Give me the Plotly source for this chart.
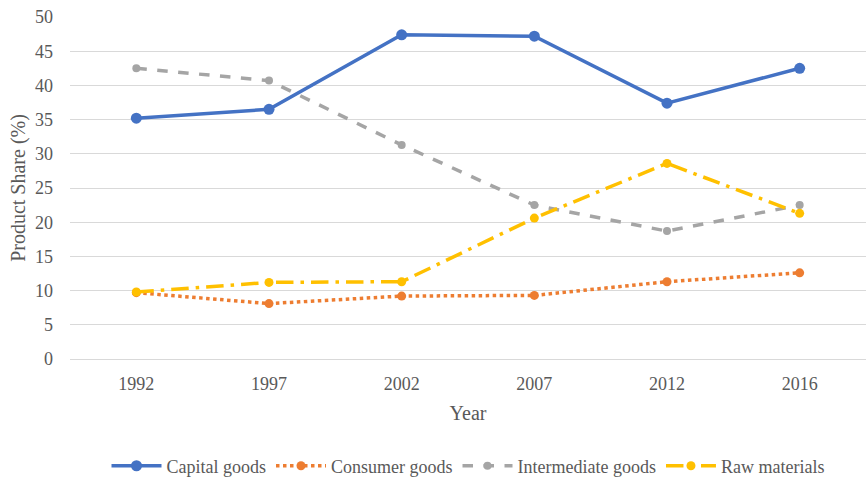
import plotly.graph_objects as go

years = ["1992", "1997", "2002", "2007", "2012", "2016"]
capital = [35.2, 36.5, 47.4, 47.2, 37.4, 42.5]
consumer = [9.7, 8.1, 9.2, 9.3, 11.3, 12.6]
intermediate = [42.5, 40.7, 31.3, 22.5, 18.7, 22.5]
raw = [9.8, 11.2, 11.3, 20.6, 28.6, 21.3]

font = "Liberation Serif, Times New Roman, serif"
grey_text = "#595959"

fig = go.Figure()
fig.add_trace(go.Scatter(x=years, y=capital, name="Capital goods", mode="lines+markers",
                         line=dict(color="#4472C4", width=3.5), marker=dict(size=11)))
fig.add_trace(go.Scatter(x=years, y=consumer, name="Consumer goods", mode="lines+markers",
                         line=dict(color="#ED7D31", width=3.5, dash="dot"), marker=dict(size=9)))
fig.add_trace(go.Scatter(x=years, y=intermediate, name="Intermediate goods", mode="lines+markers",
                         line=dict(color="#A5A5A5", width=3.5, dash="dash"), marker=dict(size=8)))
fig.add_trace(go.Scatter(x=years, y=raw, name="Raw materials", mode="lines+markers",
                         line=dict(color="#FFC000", width=3.5, dash="longdashdot"), marker=dict(size=9)))

fig.update_layout(
    width=866, height=480,
    margin=dict(l=70, r=0, t=17, b=121, autoexpand=False),
    paper_bgcolor="white", plot_bgcolor="white",
    font=dict(family=font, size=18, color=grey_text),
    showlegend=True,
    legend=dict(orientation="h", x=0.5, xanchor="center", y=-0.313, yanchor="middle",
                font=dict(family=font, size=18, color=grey_text), traceorder="normal",
                itemwidth=50),
    xaxis=dict(type="category", range=[-0.5, 5.5], showgrid=False, showline=False,
               automargin=False,
               ticks="", ticklabelstandoff=12, tickfont=dict(size=18, color=grey_text),
               title=dict(text="Year", font=dict(size=20, color=grey_text), standoff=12)),
    yaxis=dict(range=[0, 50], dtick=5, showgrid=True, gridcolor="#D9D9D9", gridwidth=1,
               automargin=False,
               zeroline=True, zerolinecolor="#D9D9D9", zerolinewidth=1, showline=False,
               ticks="", ticklabelstandoff=16, tickfont=dict(size=18, color=grey_text),
               title=dict(text="Product Share (%)", font=dict(size=20, color=grey_text), standoff=4)),
)

fig.write_html("out.html")
